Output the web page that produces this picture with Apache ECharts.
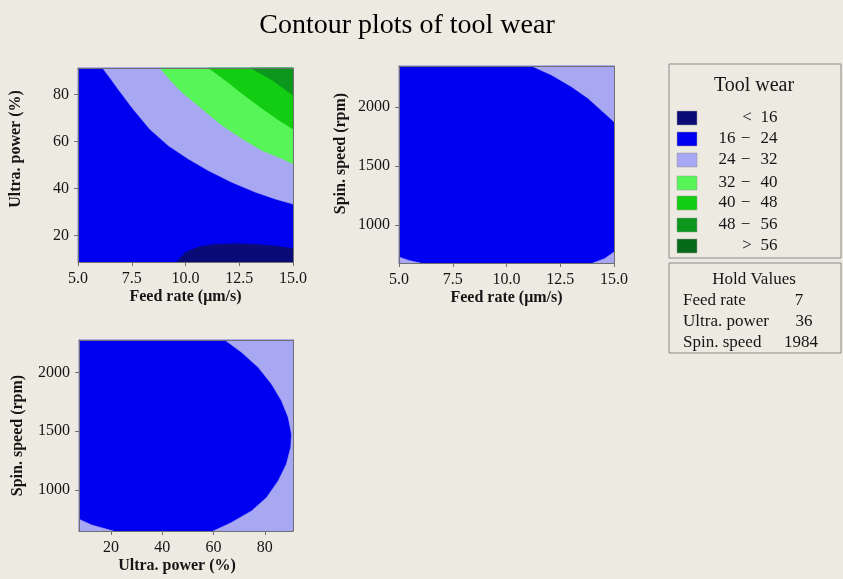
<!DOCTYPE html>
<html><head><meta charset="utf-8">
<script src="https://cdn.jsdelivr.net/npm/echarts@6/dist/echarts.min.js"></script>
<style>html,body{margin:0;padding:0;background:#EDEAE1}#c{width:843px;height:579px}</style>
</head><body><div id="c"></div><script>
// ---------- data ----------
const chartTitle = 'Contour plots of tool wear';
const legendTitle = 'Tool wear';
const levelLabels = [['<', '16'], ['16', '24'], ['24', '32'], ['32', '40'], ['40', '48'], ['48', '56'], ['>', '56']];
const holdTitle = 'Hold Values';
const holdNames = ['Feed rate', 'Ultra. power', 'Spin. speed'];
const holdValues = ['7', '36', '1984'];

// axis ranges / tick labels
const feedRange = [5, 15];
const feedTicks = [5, 7.5, 10, 12.5, 15];
const powerRangeP1 = [8.8, 91.2];
const powerRangeP3 = [7.5, 91];
const powerTicks = [20, 40, 60, 80];
const spinRangeP2 = [681, 2344];
const spinRangeP3 = [654, 2274];
const spinTicks = [1000, 1500, 2000];

// Panel 1 : Feed rate (x) vs Ultra. power (y) — contour boundaries
const p1Base = [[5, 8.8], [15, 8.8], [15, 91.2], [5, 91.2]];
const p1Above24 = [[6.14, 91.2], [6.5, 86.8], [6.85, 82.4], [7.55, 73.9], [8.33, 65.3], [9.19, 58.3], [10.13, 52.6], [11.07, 47.6], [12.17, 42.6], [13.26, 38.4], [14.2, 35.5], [15, 33.4], [15, 91.2]];
const p1Above32 = [[8.8, 91.2], [9.3, 86.0], [9.82, 81.0], [10.76, 73.9], [11.7, 66.8], [12.64, 61.1], [13.58, 56.1], [14.52, 52.6], [15, 50.4], [15, 91.2]];
const p1Above40 = [[11.07, 91.2], [11.85, 86.0], [12.64, 80.3], [13.58, 73.9], [14.36, 68.9], [15, 65.3], [15, 91.2]];
const p1Above48 = [[13.03, 91.2], [14.05, 86.0], [15, 79.6], [15, 91.2]];
const p1Below16 = [[9.59, 8.8], [9.98, 12.8], [10.6, 15.2], [11.38, 16.3], [12.32, 16.6], [13.26, 16.3], [14.2, 15.6], [15, 14.5], [15, 8.8]];

// Panel 2 : Feed rate (x) vs Spin. speed (y)
const p2Base = [[5, 681], [15, 681], [15, 2344], [5, 2344]];
const p2Above24TopRight = [[11.16, 2344], [12.09, 2268], [13.02, 2169], [13.79, 2071], [14.57, 1944], [15, 1873], [15, 2344]];
const p2Above24BottomLeft = [[5, 732], [5.43, 704], [5.98, 681], [5, 681]];
const p2Above24BottomRight = [[14.02, 681], [14.57, 718], [15, 774], [15, 681]];

// Panel 3 : Ultra. power (x) vs Spin. speed (y)
const p3Base = [[7.5, 654], [91, 654], [91, 2274], [7.5, 2274]];
const p3Above24Right = [[64.4, 2274], [70.9, 2170], [77.4, 2042], [82.6, 1901], [86.5, 1759], [89.1, 1618], [90.4, 1476], [90.1, 1363], [88.4, 1221], [85.2, 1079], [80.7, 938], [74.8, 824], [67.0, 726], [59.9, 654], [91, 654], [91, 2274]];
const p3Above24BottomLeft = [[7.5, 754], [12.5, 705], [20.9, 654], [7.5, 654]];

// ---------- styles ----------
const levelColors = ['#0B0B78', '#0000F0', '#A7A7F2', '#57F557', '#12CD12', '#0B961C', '#066A18'];
const bg = '#EDEAE1';
const serif = "'Liberation Serif', 'Times New Roman', serif";
const txt = '#151515';
const frame = '#707070';

const panels = [
  { grid: { left: 78, top: 68, width: 215, height: 194 }, x: feedRange, y: powerRangeP1, xTicks: feedTicks, yTicks: powerTicks,
    xName: 'Feed rate (μm/s)', yName: 'Ultra. power (%)', xFmt: v => v.toFixed(1), yPad: [0, 0, 0, 32], xPad: [0, 0, 0, 0], yGap: 54,
    regions: [[1, p1Base], [2, p1Above24], [3, p1Above32], [4, p1Above40], [5, p1Above48], [0, p1Below16]] },
  { grid: { left: 399, top: 66, width: 215, height: 197 }, x: feedRange, y: spinRangeP2, xTicks: feedTicks, yTicks: spinTicks,
    xName: 'Feed rate (μm/s)', yName: 'Spin. speed (rpm)', xFmt: v => v.toFixed(1), yPad: [0, 0, 0, 22], xPad: [0, 0, 0, 0], yGap: 50,
    regions: [[1, p2Base], [2, p2Above24TopRight], [2, p2Above24BottomLeft], [2, p2Above24BottomRight]] },
  { grid: { left: 79, top: 340, width: 214, height: 191 }, x: powerRangeP3, y: spinRangeP3, xTicks: powerTicks, yTicks: spinTicks,
    xName: 'Ultra. power (%)', yName: 'Spin. speed (rpm)', xFmt: v => String(v), yPad: [0, 0, 0, 0], xPad: [0, 18, 0, 0], yGap: 53,
    regions: [[1, p3Base], [2, p3Above24Right], [2, p3Above24BottomLeft]] }
];

const grids = [], xAxes = [], yAxes = [], series = [];
panels.forEach((p, i) => {
  grids.push(Object.assign({ containLabel: false }, p.grid));
  xAxes.push({ type: 'value', gridIndex: i, min: p.x[0], max: p.x[1], z: 5,
    name: p.xName, nameLocation: 'middle', nameGap: 27,
    nameTextStyle: { fontFamily: serif, fontWeight: 'bold', fontSize: 16, color: txt, padding: p.xPad },
    axisLine: { show: true, lineStyle: { color: frame, width: 1 } },
    axisTick: { show: true, inside: false, length: 4, lineStyle: { color: frame }, customValues: p.xTicks },
    axisLabel: { fontFamily: serif, fontSize: 16, color: txt, margin: 9, customValues: p.xTicks, formatter: p.xFmt },
    splitLine: { show: false } });
  xAxes.push({ type: 'value', gridIndex: i, min: p.x[0], max: p.x[1], position: 'top', z: 5,
    axisLine: { show: true, lineStyle: { color: frame, width: 1 } }, axisTick: { show: false }, axisLabel: { show: false }, splitLine: { show: false } });
  yAxes.push({ type: 'value', gridIndex: i, min: p.y[0], max: p.y[1], z: 5,
    name: p.yName, nameLocation: 'middle', nameGap: p.yGap,
    nameTextStyle: { fontFamily: serif, fontWeight: 'bold', fontSize: 16, color: txt, padding: p.yPad },
    axisLine: { show: true, lineStyle: { color: frame, width: 1 } },
    axisTick: { show: true, inside: false, length: 4, lineStyle: { color: frame }, customValues: p.yTicks },
    axisLabel: { fontFamily: serif, fontSize: 16, color: txt, margin: 9, customValues: p.yTicks, formatter: v => String(v) },
    splitLine: { show: false } });
  yAxes.push({ type: 'value', gridIndex: i, min: p.y[0], max: p.y[1], position: 'right', z: 5,
    axisLine: { show: true, lineStyle: { color: frame, width: 1 } }, axisTick: { show: false }, axisLabel: { show: false }, splitLine: { show: false } });
  const regs = p.regions;
  series.push({
    type: 'custom', xAxisIndex: 2 * i, yAxisIndex: 2 * i, silent: true, z: 2,
    data: regs.map(r => r[1][0]),
    renderItem: function (params, api) {
      const r = regs[params.dataIndex];
      return { type: 'polygon', shape: { points: r[1].map(pt => api.coord(pt)) },
        style: { fill: levelColors[r[0]], stroke: levelColors[r[0]], lineWidth: 0.5 } };
    }
  });
});

// legend & hold-values boxes as graphic elements
const graphic = [];
const lx = 669, lw = 172;
graphic.push({ type: 'rect', shape: { x: lx, y: 64, width: lw, height: 194 }, style: { fill: bg, stroke: '#8a8a8a', lineWidth: 1 } });
graphic.push({ type: 'text', x: 754, y: 86, style: { text: legendTitle, font: '20px ' + serif, fill: txt, align: 'center', verticalAlign: 'middle' } });
const rowY = [118, 139, 160, 183, 203, 225, 246];
levelLabels.forEach((lab, i) => {
  graphic.push({ type: 'rect', shape: { x: 677, y: rowY[i] - 7, width: 20, height: 14 }, style: { fill: levelColors[i], stroke: '#9a9a9a', lineWidth: 0.5 } });
  if (lab[0] === '<' || lab[0] === '>') {
    graphic.push({ type: 'text', x: 747, y: rowY[i], style: { text: lab[0], font: '17px ' + serif, fill: txt, align: 'center', verticalAlign: 'middle' } });
  } else {
    graphic.push({ type: 'text', x: 727, y: rowY[i], style: { text: lab[0], font: '17px ' + serif, fill: txt, align: 'center', verticalAlign: 'middle' } });
    graphic.push({ type: 'text', x: 745.5, y: rowY[i], style: { text: '−', font: '17px ' + serif, fill: txt, align: 'center', verticalAlign: 'middle' } });
  }
  graphic.push({ type: 'text', x: 769, y: rowY[i], style: { text: lab[1], font: '17px ' + serif, fill: txt, align: 'center', verticalAlign: 'middle' } });
});
graphic.push({ type: 'rect', shape: { x: lx, y: 263, width: lw, height: 90 }, style: { fill: bg, stroke: '#8a8a8a', lineWidth: 1 } });
graphic.push({ type: 'text', x: 754, y: 280, style: { text: holdTitle, font: '17px ' + serif, fill: txt, align: 'center', verticalAlign: 'middle' } });
const holdY = [301, 322, 343];
const holdValX = [799, 804, 801];
holdNames.forEach((n, i) => {
  graphic.push({ type: 'text', x: 683, y: holdY[i], style: { text: n, font: '17px ' + serif, fill: txt, align: 'left', verticalAlign: 'middle' } });
  graphic.push({ type: 'text', x: holdValX[i], y: holdY[i], style: { text: holdValues[i], font: '17px ' + serif, fill: txt, align: 'center', verticalAlign: 'middle' } });
});

const chart = echarts.init(document.getElementById('c'), null, { renderer: 'canvas' });
chart.setOption({
  backgroundColor: bg,
  animation: false,
  title: { text: chartTitle, left: 402, top: 7, textAlign: 'center',
    textStyle: { fontFamily: serif, fontSize: 28, fontWeight: 'normal', color: '#000' } },
  grid: grids, xAxis: xAxes, yAxis: yAxes, series: series, graphic: graphic
});
</script></body></html>
